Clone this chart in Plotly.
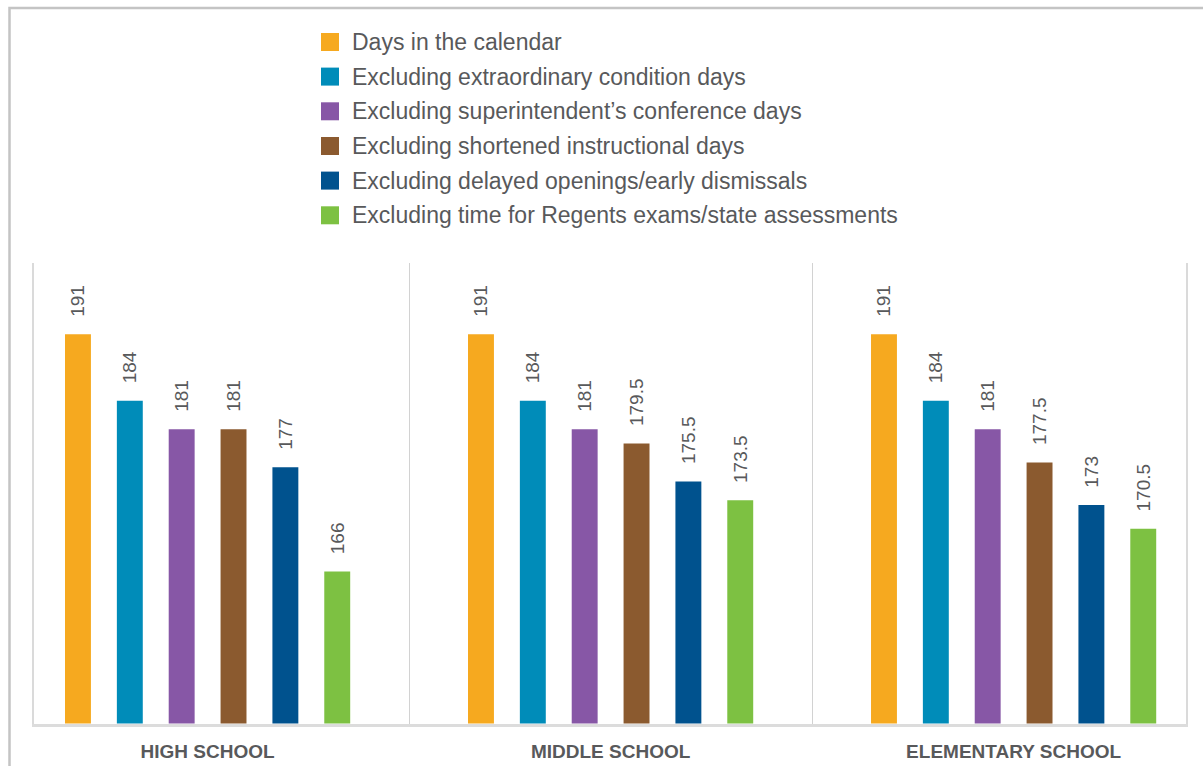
import plotly.graph_objects as go

# Schools compared, and the number of instructional days at each step
schools = ["HIGH SCHOOL", "MIDDLE SCHOOL", "ELEMENTARY SCHOOL"]
series_names = [
    "Days in the calendar",
    "Excluding extraordinary condition days",
    "Excluding superintendent\u2019s conference days",
    "Excluding shortened instructional days",
    "Excluding delayed openings/early dismissals",
    "Excluding time for Regents exams/state assessments",
]
days_calendar = [191, 191, 191]
excl_extraordinary = [184, 184, 184]
excl_conference = [181, 181, 181]
excl_shortened = [181, 179.5, 177.5]
excl_delayed = [177, 175.5, 173]
excl_regents = [166, 173.5, 170.5]

series_values = [days_calendar, excl_extraordinary, excl_conference,
                 excl_shortened, excl_delayed, excl_regents]
colors = ["#F6A91F", "#008CB9", "#8757A6", "#8B5A2F", "#00528E", "#7DC142"]

W, H = 1203, 766
FONT = "Liberation Sans, Arial, Helvetica, sans-serif"
TEXT_GRAY = "#58595B"


def px(x):
    return x / W


def py(y):
    return 1 - y / H


fig = go.Figure()
# leading padding lifts the rotated value labels a little off the bar tops
pad = "\u00a0\u00a0\u2009"
for name, vals, col in zip(series_names, series_values, colors):
    fig.add_trace(go.Bar(
        x=schools, y=vals, name=name, marker=dict(color=col, line=dict(width=0)),
        text=[pad + (f"{v:g}") for v in vals],
        textposition="outside", textangle=-90, constraintext="none",
        cliponaxis=False,
        textfont=dict(family=FONT, size=19, color=TEXT_GRAY),
        showlegend=False,
    ))

shapes = []
annotations = []

# outer frame
shapes.append(dict(type="rect", xref="paper", yref="paper",
                   x0=px(9.5), x1=px(1250), y0=py(820), y1=py(8),
                   line=dict(color="#C4C4C4", width=2.5), fillcolor="rgba(0,0,0,0)",
                   layer="below"))

# hand-built legend
row_y = [42, 76.6, 111.3, 146, 180.6, 215.3]
for name, col, ry in zip(series_names, colors, row_y):
    shapes.append(dict(type="rect", xref="paper", yref="paper",
                       x0=px(321), x1=px(339), y0=py(ry + 9), y1=py(ry - 9),
                       line=dict(width=0), fillcolor=col))
    annotations.append(dict(xref="paper", yref="paper", x=px(350), y=py(ry),
                            xanchor="left", yanchor="middle", showarrow=False,
                            text=name, font=dict(family=FONT, size=23, color=TEXT_GRAY)))

fig.update_layout(
    width=W, height=H,
    margin=dict(l=0, r=0, t=0, b=0),
    paper_bgcolor="white", plot_bgcolor="white",
    barmode="group", bargap=0.228, bargroupgap=0.5,
    shapes=shapes, annotations=annotations,
    xaxis=dict(
        domain=[px(33.5), px(1185.7)],
        range=[-0.432, 2.427],
        tickson="boundaries", ticks="",
        showgrid=True, gridcolor="#D2D2D2", gridwidth=1,
        showline=True, linecolor="#DCDCDC", linewidth=2.5,
        zeroline=False,
        ticklabelstandoff=9,
        tickfont=dict(family=FONT, size=19, color=TEXT_GRAY, weight="bold"),
    ),
    yaxis=dict(
        domain=[py(723.5), py(263)],
        range=[150, 198.5],
        showticklabels=False, showgrid=False, zeroline=False,
        showline=True, linecolor="#DADADA", linewidth=1.5, mirror=True,
        ticks="",
    ),
)

fig.write_html("out.html")
